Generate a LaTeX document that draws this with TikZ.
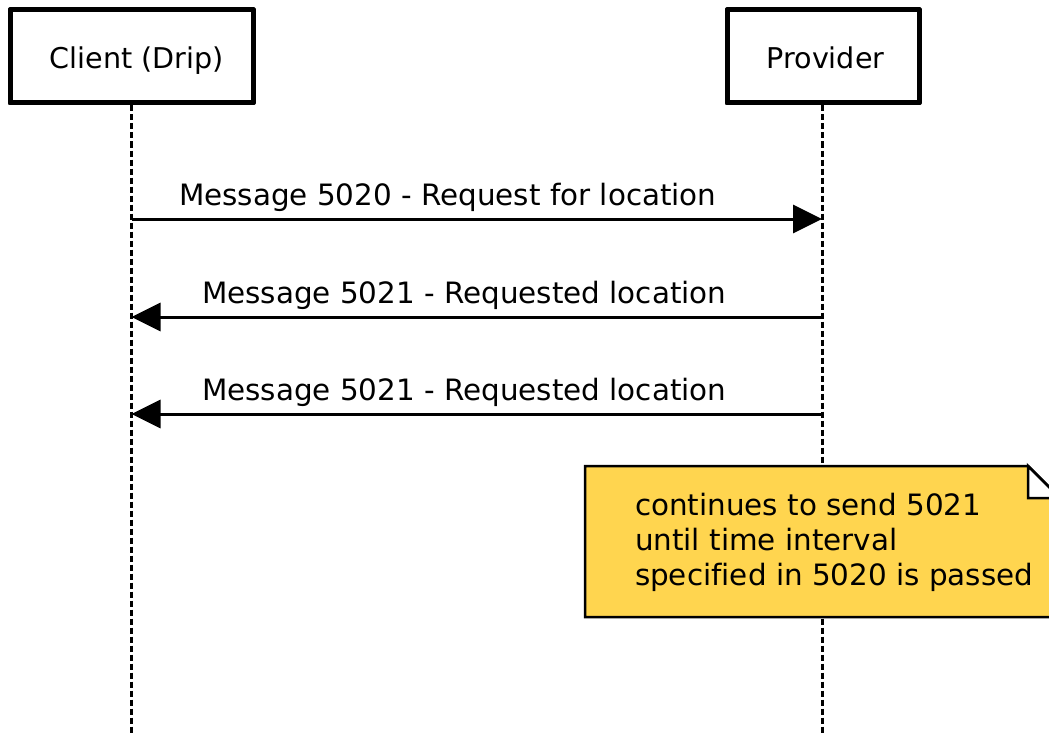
\documentclass[tikz,border=0pt]{standalone}
\usepackage{fontspec}
\setmainfont[Ligatures=NoCommon]{DejaVu Sans}
\usetikzlibrary{arrows.meta}
\definecolor{notefill}{HTML}{FFD54F}
\begin{document}
\begin{tikzpicture}[x=1pt,y=-1pt,
  txt/.style={font=\fontsize{29.4pt}{35pt}\selectfont, inner sep=0pt, outer sep=0pt},
  actortxt/.style={font=\fontsize{28.6pt}{35pt}\selectfont, inner sep=0pt, outer sep=0pt},
  actor/.style={draw, line width=5pt, line join=round, fill=white, inner sep=0pt, minimum height=93pt},
  lifeline/.style={line width=3pt, dash pattern=on 6pt off 3pt},
  msg/.style={line width=3pt, -{Triangle[length=29pt,width=28pt]}},
  notebox/.style={draw, line width=2.5pt, line join=miter, fill=notefill}
]
\useasboundingbox (0,0) rectangle (1049,733);
\clip (0,0) rectangle (1049,733);
% lifelines
\coordinate (cbot) at (131.5,733);
\coordinate (pbot) at (822,733);
\node[actor, minimum width=243pt] (client) at (131.5,56.5) {};
\node[actor, minimum width=192pt] (provider) at (823,56.5) {};
\draw[lifeline] (client.south -| cbot) -- (cbot);
\draw[lifeline] (provider.south -| pbot) -- (pbot);
\node[actor, minimum width=243pt] at (client) {};
\node[actor, minimum width=192pt] at (provider) {};
\node[actortxt, anchor=base] (clientlbl) at (137,69) {Client (Drip)};
\node[actortxt, anchor=base] (providerlbl) at (825.5,69) {Provider};
% messages
\coordinate (m1c) at (131.5,219);
\coordinate (m1p) at (822,219);
\coordinate (m2c) at (131.5,317);
\coordinate (m2p) at (822,317);
\coordinate (m3c) at (131.5,414);
\coordinate (m3p) at (822,414);
\draw[msg] (m1c) -- (m1p);
\draw[msg] (m2p) -- (m2c);
\draw[msg] (m3p) -- (m3c);
\node[txt, anchor=base west] (l1) at (179,205) {Message 5020 - Request for location};
\node[txt, anchor=base west] (l2) at (202,303) {Message 5021 - Requested location};
\node[txt, anchor=base west] (l3) at (202,400) {Message 5021 - Requested location};
% note
\draw[notebox] (585,466) -- (1028,466) -- (1060,498) -- (1060,617) -- (585,617) -- cycle;
\draw[line width=2.5pt, fill=white, line join=miter] (1028,466) -- (1028,498) -- (1060,498) -- cycle;
\node[txt, anchor=base west] (n1) at (635,515) {continues to send 5021};
\node[txt, anchor=base west] (n2) at (635,550) {until time interval};
\node[txt, anchor=base west] (n3) at (635,585) {specified in 5020 is passed};
\end{tikzpicture}
\end{document}
